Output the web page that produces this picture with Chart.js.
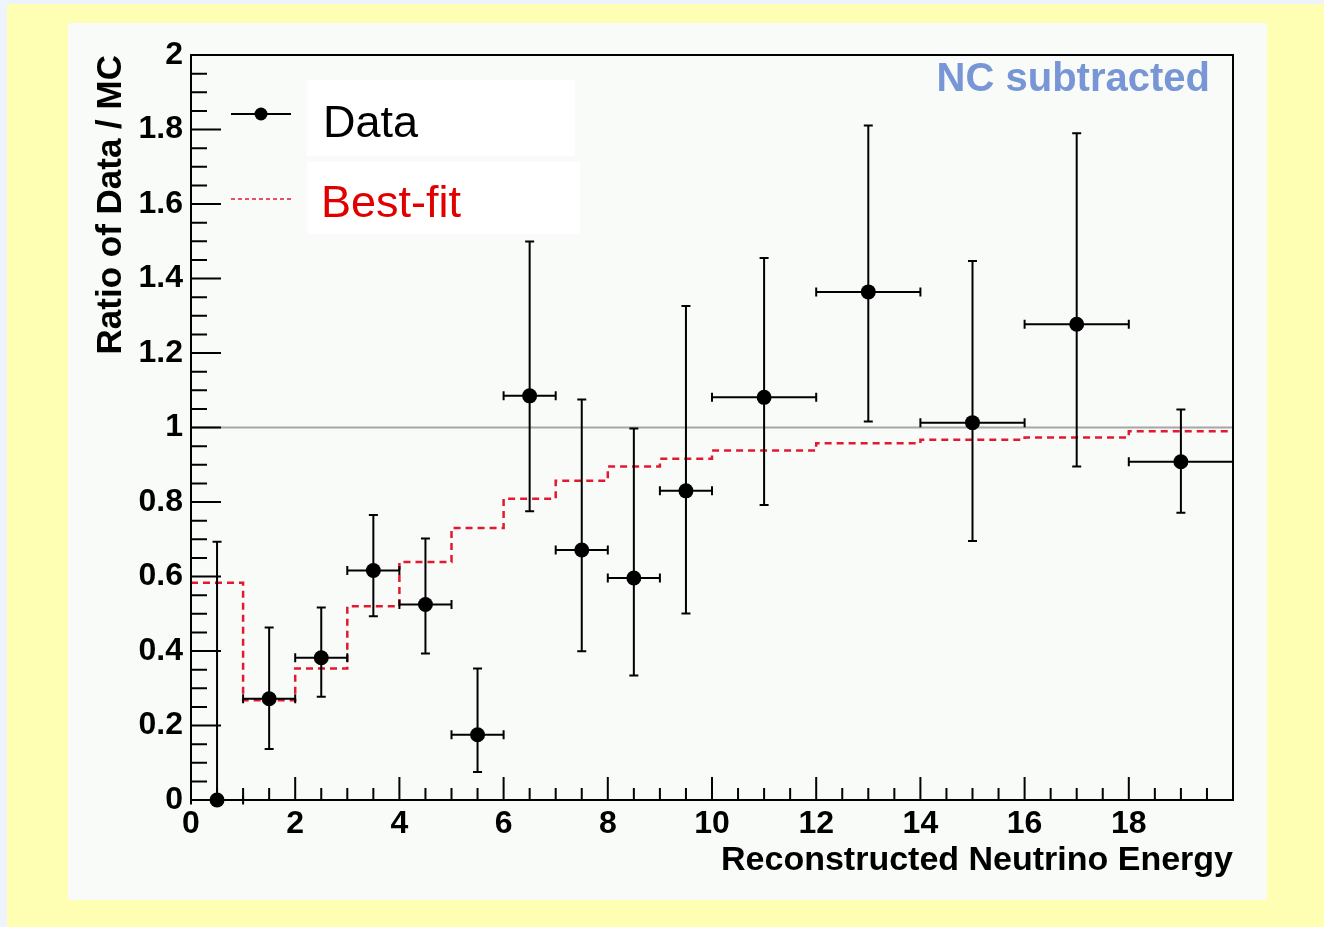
<!DOCTYPE html>
<html>
<head>
<meta charset="utf-8">
<script src="https://cdn.jsdelivr.net/npm/chart.js@4.4.1/dist/chart.umd.min.js"></script>
<style>
  html, body { margin: 0; padding: 0; background: #eef4fb; }
  #frame { position: absolute; left: 7px; top: 4px; width: 1317px; height: 923px; background: #ffffb4; }
  #panel { position: absolute; left: 68px; top: 23px; width: 1199px; height: 877px; background: #f8fbf8; }
  #myChart { display: block; }
</style>
</head>
<body>
<div id="frame"></div>
<div id="panel"><canvas id="myChart" width="1199" height="877" style="width:1199px;height:877px"></canvas></div>
<script>
let font = '"Liberation Sans", Arial, Helvetica, sans-serif';

// measured points: bin centre, bin edges, ratio and the ends of the error bar
let xCenter = [0.5, 1.5, 2.5, 3.5, 4.5, 5.5, 6.5, 7.5, 8.5, 9.5, 11, 13, 15, 17, 19];
let binLow  = [0, 1, 2, 3, 4, 5, 6, 7, 8, 9, 10, 12, 14, 16, 18];
let binHigh = [1, 2, 3, 4, 5, 6, 7, 8, 9, 10, 12, 14, 16, 18, 20];
let ratio   = [0, 0.272, 0.382, 0.616, 0.525, 0.175, 1.085, 0.671, 0.596, 0.830, 1.081, 1.364, 1.013, 1.277, 0.908];
let errTop  = [0.693, 0.463, 0.517, 0.765, 0.702, 0.353, 1.499, 1.075, 0.997, 1.326, 1.455, 1.811, 1.447, 1.790, 1.048];
let errBot  = [0, 0.137, 0.277, 0.493, 0.393, 0.075, 0.775, 0.399, 0.334, 0.501, 0.792, 1.016, 0.695, 0.895, 0.771];

// best-fit histogram (bin edges and contents)
let fitEdges  = [0, 1, 2, 3, 4, 5, 6, 7, 8, 9, 10, 12, 14, 16, 18, 20];
let fitValues = [0.583, 0.268, 0.353, 0.520, 0.639, 0.730, 0.809, 0.857, 0.895, 0.916, 0.938, 0.958, 0.967, 0.973, 0.990];

let xTicks = [0, 2, 4, 6, 8, 10, 12, 14, 16, 18, 20];

let pointData = xCenter.map((x, i) => ({ x: x, y: ratio[i] }));
let fitData = fitEdges.map((x, i) => ({ x: x, y: fitValues[Math.min(i, fitValues.length - 1)] }));

// ROOT style frame, inward ticks, error bars, legend and label
let rootStyle = {
  id: 'rootStyle',
  afterDatasetsDraw(chart) {
    let c = chart.ctx;
    let xs = chart.scales.x, ys = chart.scales.y;
    let a = chart.chartArea;

    c.save();
    c.strokeStyle = '#000';
    c.lineWidth = 2;
    for (let i = 0; i < xCenter.length; i++) {
      let px = xs.getPixelForValue(xCenter[i]);
      let py = ys.getPixelForValue(ratio[i]);
      let x0 = xs.getPixelForValue(binLow[i]), x1 = xs.getPixelForValue(binHigh[i]);
      let yt = ys.getPixelForValue(errTop[i]), yb = ys.getPixelForValue(errBot[i]);
      c.beginPath();
      c.moveTo(x0, py); c.lineTo(x1, py);
      c.moveTo(x0, py - 4.5); c.lineTo(x0, py + 4.5);
      c.moveTo(x1, py - 4.5); c.lineTo(x1, py + 4.5);
      c.moveTo(px, yt); c.lineTo(px, yb);
      c.moveTo(px - 4.5, yt); c.lineTo(px + 4.5, yt);
      c.moveTo(px - 4.5, yb); c.lineTo(px + 4.5, yb);
      c.stroke();
    }

    // frame
    c.strokeRect(a.left, a.top, a.right - a.left, a.bottom - a.top);

    // y ticks every 0.05, major every 0.2
    c.beginPath();
    for (let i = 0; i <= 40; i++) {
      let y = ys.getPixelForValue(i * 0.05);
      let len = i % 4 === 0 ? 30 : 16;
      c.moveTo(a.left, y); c.lineTo(a.left + len, y);
    }
    // x ticks every 0.5, major every 2
    for (let i = 0; i <= 40; i++) {
      let x = xs.getPixelForValue(i * 0.5);
      let len = i % 4 === 0 ? 23 : 12;
      c.moveTo(x, a.bottom); c.lineTo(x, a.bottom - len);
    }
    c.stroke();
    c.restore();
  },
  afterDraw(chart) {
    let c = chart.ctx;
    c.save();
    // legend boxes
    c.fillStyle = '#ffffff';
    c.fillRect(239, 57, 268, 76);
    c.fillRect(239, 139, 273, 72);

    c.strokeStyle = '#000';
    c.lineWidth = 2;
    c.beginPath(); c.moveTo(163, 91); c.lineTo(223, 91); c.stroke();
    c.fillStyle = '#000';
    c.beginPath(); c.arc(193, 91, 6.5, 0, Math.PI * 2); c.fill();

    c.strokeStyle = '#e3192f';
    c.lineWidth = 1.5;
    c.setLineDash([4, 3]);
    c.beginPath(); c.moveTo(163, 176); c.lineTo(223, 176); c.stroke();
    c.setLineDash([]);

    c.textBaseline = 'alphabetic';
    c.textAlign = 'left';
    c.font = '45px ' + font;
    c.fillStyle = '#000';
    c.fillText('Data', 255, 114);
    c.fillStyle = '#e00000';
    c.fillText('Best-fit', 253, 194);

    c.font = 'bold 40px ' + font;
    c.fillStyle = '#7896d6';
    c.textAlign = 'right';
    c.fillText('NC subtracted', 1142, 68);
    c.restore();
  }
};

let ctx = document.getElementById('myChart').getContext('2d');
let myChart = new Chart(ctx, {
  type: 'scatter',
  data: {
    datasets: [
      {
        label: 'Data',
        data: pointData,
        pointRadius: 7.5,
        pointHoverRadius: 7.5,
        backgroundColor: '#000',
        borderWidth: 0,
        clip: false
      },
      {
        label: 'Best-fit',
        type: 'line',
        data: fitData,
        stepped: 'before',
        borderColor: '#e3192f',
        borderWidth: 2.5,
        borderDash: [7, 5],
        pointRadius: 0,
        fill: false
      },
      {
        label: 'one',
        type: 'line',
        data: [{ x: 0, y: 1 }, { x: 20, y: 1 }],
        borderColor: '#a6a6a6',
        borderWidth: 2,
        pointRadius: 0,
        fill: false
      }
    ]
  },
  options: {
    responsive: false,
    animation: false,
    devicePixelRatio: 1,
    layout: { padding: { top: 32, right: 34, left: 0, bottom: 0 } },
    plugins: {
      legend: { display: false },
      tooltip: { enabled: false }
    },
    scales: {
      x: {
        type: 'linear',
        min: 0,
        max: 20,
        afterFit: (s) => { s.height = 100; },
        afterBuildTicks: (s) => { s.ticks = xTicks.map(v => ({ value: v })); },
        grid: { display: false, drawTicks: false },
        border: { display: false },
        ticks: {
          padding: 5,
          maxRotation: 0,
          color: '#000',
          font: { family: font, size: 32, weight: 'bold' },
          callback: (v) => v === 20 ? '' : String(v)
        },
        title: {
          display: true,
          text: 'Reconstructed Neutrino Energy',
          align: 'end',
          color: '#000',
          padding: { top: 0, bottom: 19 },
          font: { family: font, size: 34, weight: 'bold' }
        }
      },
      y: {
        type: 'linear',
        min: 0,
        max: 2,
        afterFit: (s) => { s.width = 123; },
        grid: { display: false, drawTicks: false },
        border: { display: false },
        ticks: {
          stepSize: 0.2,
          padding: 8,
          color: '#000',
          font: { family: font, size: 32, weight: 'bold' },
          callback: (v) => String(Math.round(v * 10) / 10)
        },
        title: {
          display: true,
          text: 'Ratio of Data / MC',
          align: 'end',
          color: '#000',
          padding: { top: 22, bottom: 0 },
          font: { family: font, size: 35, weight: 'bold' }
        }
      }
    }
  },
  plugins: [rootStyle]
});
</script>
</body>
</html>
